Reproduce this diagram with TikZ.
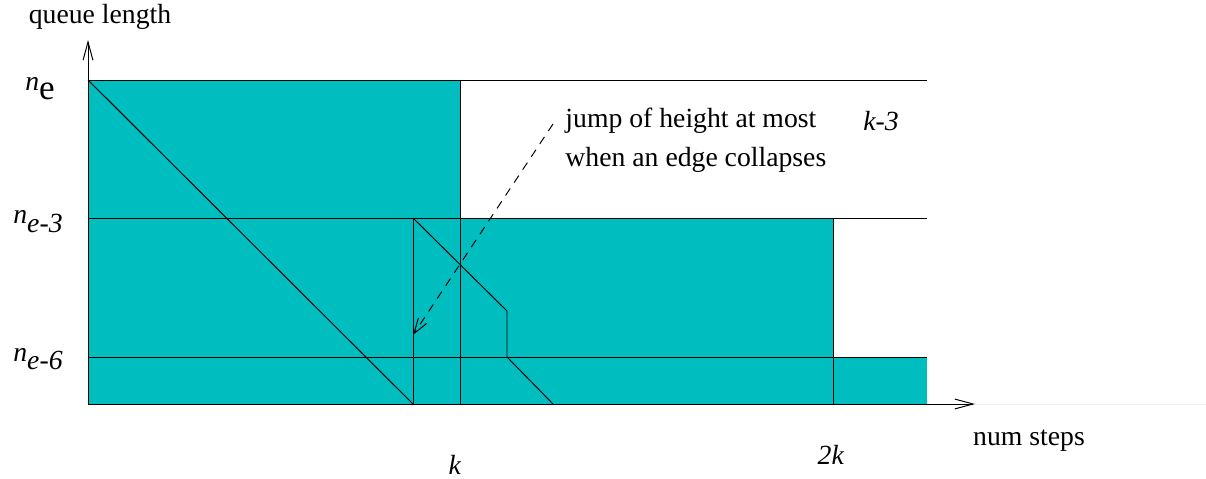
\documentclass[tikz,border=0pt]{standalone}
\usepackage{fontspec}
\setmainfont{Liberation Serif}
\usetikzlibrary{arrows.meta}
\definecolor{queuefill}{RGB}{0,190,192}

\begin{document}
\begin{tikzpicture}[x=0.025cm, y=-0.025cm, line width=0.7pt,
    lbl/.style={font=\fontsize{19.7}{28}\selectfont, inner sep=0pt},
    axisarrow/.style={-{Straight Barb[length=13pt,width=7pt,line width=0.7pt]}}]
    \useasboundingbox (0,0) rectangle (1206,479);
    % queue length areas
    \fill[queuefill] (88,80) rectangle (460,404);
    \fill[queuefill] (88,218) rectangle (833,404);
    \fill[queuefill] (88,357) rectangle (927,404);
    % levels n_e, n_{e-3}, n_{e-6}
    \foreach \yy in {80,218,357} {
      \draw (88,\yy) -- (927,\yy);
    }
    % steps k and 2k
    \draw (460,80) -- (460,404);
    \draw (833,218) -- (833,404);
    \draw (413,218) -- (413,404);
    % queue decrease
    \draw (88,80) -- (413,404);
    \draw (413,218) -- (507,311) -- (507,357) -- (553,404);
    % axes
    \draw[gray!12] (975,404) -- (1206,404);
    \draw[axisarrow] (88,404) -- (975,404);
    \draw[axisarrow] (88,404) -- (88,40);
    % axis labels
    \node[lbl] (ylabel) at (100,17) {queue length};
    \node[lbl] (xlabel) at (1029,441) {num steps};
    \node[lbl, anchor=base] (ne) at (40,91) {\textit{n}\raisebox{-6pt}{\fontsize{25}{28}\selectfont e}};
    \node[lbl, anchor=base] (nethree) at (38,224) {\textit{n}\raisebox{-6pt}{\textit{e-3}}};
    \node[lbl, anchor=base] (nesix) at (38,361) {\textit{n}\raisebox{-6pt}{\textit{e-6}}};
    \node[lbl] (kstep) at (455,465) {\textit{k}};
    \node[lbl] (twokstep) at (831,455) {\textit{2k}};
    % jump annotation
    \node[lbl, anchor=west, align=left] (jump) at (565,140)
      {jump of height at most\\when an edge collapses};
    \node[lbl] (kthree) at (881,121) {\textit{k-3}};
    \coordinate (jumpstart) at (553,124);
    \coordinate (jumpend) at (413,335);
    \draw[dash pattern=on 6pt off 5pt,
      -{Straight Barb[length=11pt,width=7pt,line width=0.7pt]}] (jumpstart) -- (jumpend);
\end{tikzpicture}
\end{document}
